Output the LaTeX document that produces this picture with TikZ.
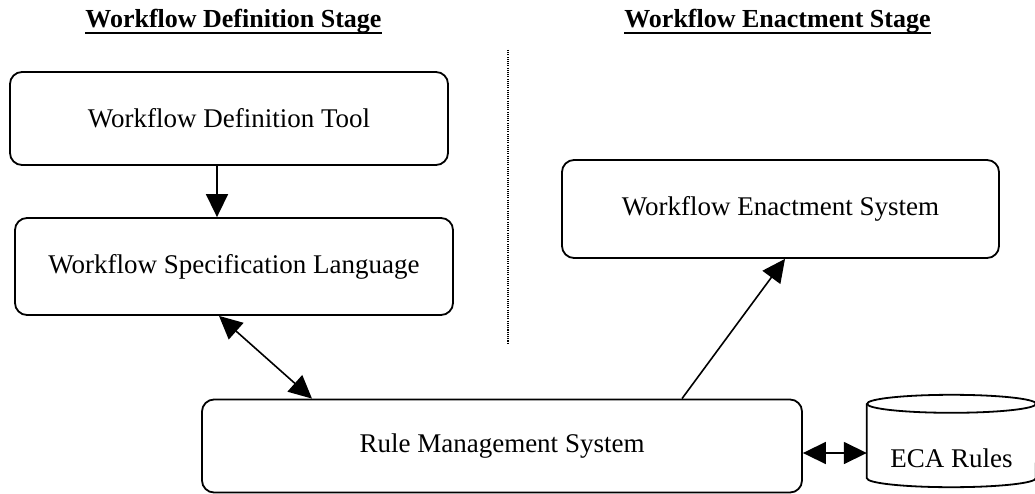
\documentclass[tikz,border=0pt]{standalone}
\usepackage{fontspec}
\setmainfont{Liberation Serif}
\usetikzlibrary{arrows.meta,calc}
\begin{document}
\begin{tikzpicture}[x=1pt,y=-1pt,
  box/.style={draw, line width=1.8pt, rounded corners=12pt, inner sep=0pt,
    font=\fontsize{27}{30}\selectfont},
  tip/.tip={Triangle[length=23pt,width=22pt]},
  arr/.style={line width=1.6pt, -tip},
  darr/.style={line width=1.6pt, tip-tip},
  stagetitle/.style={font=\fontsize{26}{30}\selectfont\bfseries, inner sep=0pt, anchor=base},
  lbl/.style={font=\fontsize{27}{30}\selectfont, inner sep=0pt},
  sep/.style={line width=1.3pt, dash pattern=on 1.1pt off 1.1pt}]
\useasboundingbox (0,0) rectangle (1035,494);

% titles
\node[stagetitle] (t1) at (233.5,28) {Workflow Definition Stage};
\node[stagetitle] (t2) at (777.5,28) {Workflow Enactment Stage};
\draw[line width=1.5pt] ([yshift=-5pt]t1.base west) -- ([yshift=-5pt]t1.base east);
\draw[line width=1.5pt] ([yshift=-5pt]t2.base west) -- ([yshift=-5pt]t2.base east);

% separator
\coordinate (d1) at (508,50);
\coordinate (d2) at (508,344);
\draw[sep] (d1) -- (d2);

% boxes
\node[box, minimum width=438pt, minimum height=93pt] (deftool) at (229,118.5) {Workflow Definition Tool};
\node[box, minimum width=438pt, minimum height=97pt] (spec) at (234,266.5) {Workflow Specification Language};
\node[box, minimum width=437pt, minimum height=98pt] (enact) at (780.5,209) {Workflow Enactment System};
\node[box, minimum width=600pt, minimum height=93pt] (rule) at (502,446) {Rule Management System};

% database cylinder
\node[minimum width=169pt, minimum height=74pt, inner sep=0pt] (eca) at (951.5,441) {};
\node[lbl] (ecatext) at ([yshift=-17pt]eca.center) {ECA Rules};
\draw[line width=1.8pt] (eca.north west) -- (eca.south west)
  arc[start angle=180, end angle=360, x radius=84.5pt, y radius=9pt] -- (eca.north east);
\draw[line width=1.8pt] (eca.north) ellipse[x radius=84.5pt, y radius=9pt];

% connectors
\coordinate (c0) at (217,0);
\coordinate (c1) at (219,0);
\coordinate (c2) at (312,0);
\coordinate (c3) at (682,0);
\coordinate (c4) at (785,0);
\draw[arr] (deftool.south -| c0) -- (spec.north -| c0);
\draw[darr] (spec.south -| c1) -- (rule.north -| c2);
\draw[arr] (rule.north -| c3) -- (enact.south -| c4);
\draw[darr] ([yshift=-7pt]rule.east) -- ([yshift=-7pt]rule.east -| eca.west);
\end{tikzpicture}
\end{document}
